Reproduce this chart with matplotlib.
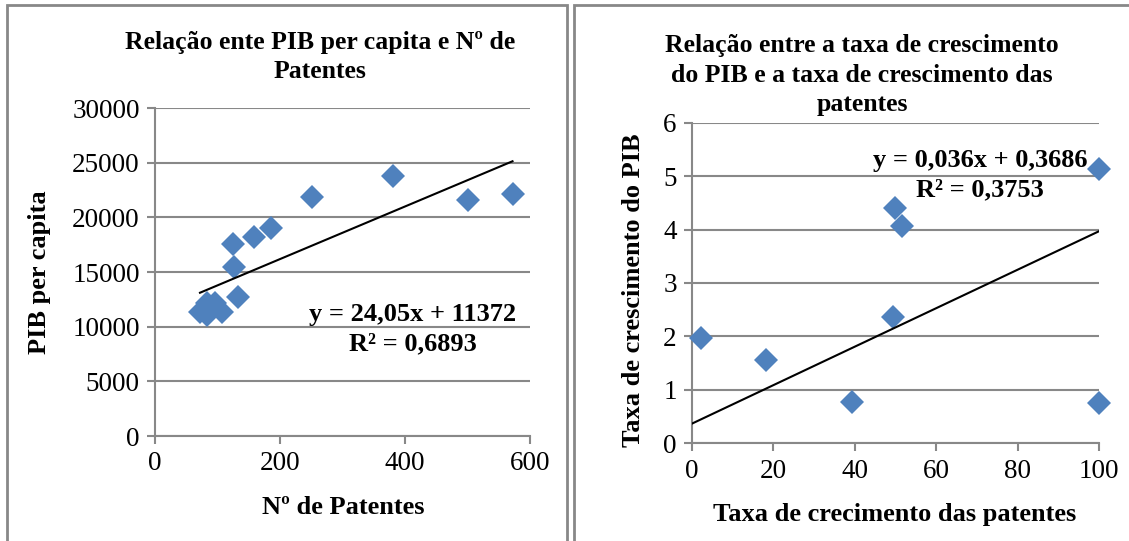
import matplotlib
matplotlib.use("Agg")
from matplotlib import pyplot as plt
from matplotlib.patches import Rectangle
import numpy as np

# painel esquerdo: PIB per capita vs Nº de patentes
patentes = [72, 83, 83, 88, 96, 107, 132, 127, 125, 159, 186, 251, 381, 500, 572]
pib_pc = [11370, 12140, 11070, 11680, 12140, 11370, 12750, 15450, 17560,
          18200, 19060, 21900, 23750, 21580, 22100]
coef_esq = (24.05, 11372)
eq_esq = "y = 24,05x + 11372\nR² = 0,6893"

# painel direito: taxas de crescimento
tx_patentes = [2.1, 18.1, 39.4, 49.4, 49.9, 51.7, 100, 100]
tx_pib = [1.98, 1.56, 0.77, 2.37, 4.41, 4.07, 5.14, 0.76]
coef_dir = (0.036, 0.3686)
eq_dir = "y = 0,036x + 0,3686\nR² = 0,3753"

plt.rcParams['font.family'] = ['Liberation Serif', 'DejaVu Serif']
azul = '#4F81BD'
cinza = '#888888'

fig = plt.figure(figsize=(11.29, 5.41), dpi=100)
W, H = 1129, 541


def px(x0, y0, x1, y1):
    # caixa em pixels -> fracao da figura
    return [x0 / W, 1 - y1 / H, (x1 - x0) / W, (y1 - y0) / H]


# molduras dos graficos
for x0, x1 in [(6.7, 566.7), (574, 1140)]:
    fig.patches.append(Rectangle((x0 / W, -0.05), (x1 - x0) / W, 1.05 - 5.3 / H,
                                 transform=fig.transFigure, fill=False,
                                 edgecolor=cinza, linewidth=2))


def estilo(ax):
    ax.spines['top'].set_visible(False)
    ax.spines['right'].set_visible(False)
    ax.spines['left'].set_color(cinza)
    ax.spines['bottom'].set_color(cinza)
    ax.spines['left'].set_linewidth(1.5)
    ax.spines['bottom'].set_linewidth(1.5)
    ax.yaxis.grid(True, color=cinza, linewidth=1.5)
    ax.set_axisbelow(True)
    ax.tick_params(direction='out', length=6, width=1.5, color=cinza,
                   labelsize=19.5, pad=5)


ax1 = fig.add_axes(px(155, 108, 530, 436))
estilo(ax1)
ax1.set_xlim(0, 600)
ax1.set_ylim(0, 30000)
ax1.set_xticks([0, 200, 400, 600])
ax1.set_yticks(range(0, 30001, 5000))
ax1.plot(patentes, pib_pc, 'D', color=azul, markersize=12.5, markeredgewidth=0, zorder=3)
xs = np.array([min(patentes), max(patentes)])
ax1.plot(xs, coef_esq[0] * xs + coef_esq[1], color='black', linewidth=1.5, zorder=4)
fig.text(413 / W, 1 - 329 / H, eq_esq, fontsize=19, fontweight='bold',
         ha='center', va='center', linespacing=1.35)
fig.text(320 / W, 1 - 57 / H, "Relação ente PIB per capita e Nº de\nPatentes",
         fontsize=18.5, fontweight='bold', ha='center', va='center', linespacing=1.35)
fig.text(343 / W, 1 - 507 / H, "Nº de Patentes", fontsize=19, fontweight='bold',
         ha='center', va='center')
fig.text(40 / W, 1 - 272 / H, "PIB per capita", fontsize=19, fontweight='bold',
         ha='center', va='center', rotation=90)

ax2 = fig.add_axes(px(692, 122.7, 1099, 443.3))
estilo(ax2)
ax2.set_xlim(0, 100)
ax2.set_ylim(0, 6)
ax2.set_xticks(range(0, 101, 20))
ax2.set_yticks(range(0, 7))
ax2.plot(tx_patentes, tx_pib, 'D', color=azul, markersize=12.5, markeredgewidth=0,
         zorder=3, clip_on=False)
xs2 = np.array([0, max(tx_patentes)])
ax2.plot(xs2, coef_dir[0] * xs2 + coef_dir[1], color='black', linewidth=1.5, zorder=4)
fig.text(980 / W, 1 - 175 / H, eq_dir, fontsize=19, fontweight='bold',
         ha='center', va='center', linespacing=1.35)
fig.text(862 / W, 1 - 75 / H,
         "Relação entre a taxa de crescimento\ndo PIB e a taxa de crescimento das\npatentes",
         fontsize=18.5, fontweight='bold', ha='center', va='center', linespacing=1.35)
fig.text(895 / W, 1 - 515 / H, "Taxa de crecimento das patentes", fontsize=19,
         fontweight='bold', ha='center', va='center')
fig.text(633 / W, 1 - 290 / H, "Taxa de crescimento do PIB", fontsize=19,
         fontweight='bold', ha='center', va='center', rotation=90)

fig.savefig('out.png', dpi=100, facecolor='white')
